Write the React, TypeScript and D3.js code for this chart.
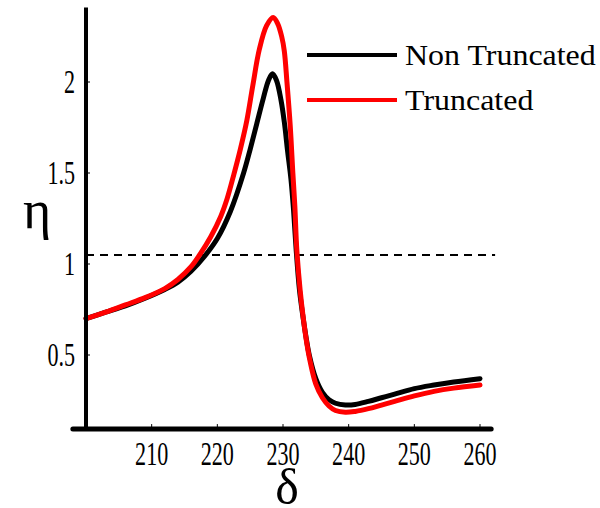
import React from "react";
import * as d3 from "d3";

// δ (detuning) samples and η response for the two models
const deltaNon = [200, 203, 206, 209, 212, 214, 216, 218, 220, 222, 224, 225, 226, 227, 227.8, 228.4, 229, 229.7, 230.2, 230.7, 231.2, 231.6, 232, 232.5, 233, 233.5, 234, 235, 236, 237, 238, 239.5, 241, 243, 245, 247, 250, 253, 256, 260];
const etaNon = [0.70, 0.735, 0.77, 0.812, 0.86, 0.90, 0.96, 1.04, 1.14, 1.29, 1.50, 1.63, 1.77, 1.91, 2.01, 2.045, 2.01, 1.90, 1.78, 1.62, 1.47, 1.30, 1.08, 0.86, 0.72, 0.60, 0.50, 0.37, 0.295, 0.255, 0.235, 0.225, 0.228, 0.245, 0.265, 0.285, 0.315, 0.335, 0.352, 0.37];

const deltaTr = [200, 203, 206, 209, 212, 214, 216, 217.3, 219, 220.5, 221.5, 222.5, 223.5, 224.5, 225.4, 226.4, 227.5, 228.5, 229.2, 229.8, 230.2, 230.6, 231.1, 231.5, 231.8, 232.1, 232.6, 233.1, 233.6, 234.1, 235, 236, 237, 238, 239.5, 241, 243, 245, 247, 250, 253, 256, 260];
const etaTr = [0.70, 0.735, 0.775, 0.815, 0.865, 0.915, 0.985, 1.05, 1.15, 1.26, 1.36, 1.49, 1.63, 1.79, 1.98, 2.18, 2.31, 2.355, 2.32, 2.25, 2.17, 2.00, 1.76, 1.50, 1.32, 1.08, 0.86, 0.70, 0.57, 0.47, 0.34, 0.265, 0.22, 0.195, 0.185, 0.19, 0.205, 0.225, 0.245, 0.275, 0.30, 0.318, 0.335];

const xTicks = [210, 220, 230, 240, 250, 260];
const yTicks = [0.5, 1, 1.5, 2];
const yTickLabels = ["0.5", "1", "1.5", "2"];
const threshold = 1.05;

const seriesNames = ["Non Truncated", "Truncated"];
const seriesColors = ["#000000", "#ff0000"];

const W = 600;
const H = 508;
const SERIF = "'Liberation Serif', 'DejaVu Serif', serif";

export default function App() {
  const x = d3.scaleLinear().domain([200, 260]).range([86, 480]);
  const y = d3.scaleLinear().domain([0.5, 2]).range([355, 82]);

  const axisYVal = 0.093; // where the δ axis crosses
  const axisY = y(axisYVal);
  const yTop = y(2.41);
  const xLeft = x(198);
  const xRight = x(261.7);

  const line = d3
    .line<[number, number]>()
    .x((d) => x(d[0]))
    .y((d) => y(d[1]))
    .curve(d3.curveCatmullRom.alpha(0.5));

  const nonPts = deltaNon.map((d, i) => [d, etaNon[i]] as [number, number]);
  const trPts = deltaTr.map((d, i) => [d, etaTr[i]] as [number, number]);

  const txt = { fontFamily: SERIF };

  return (
    <svg
      width={W}
      height={H}
      style={{ position: "absolute", left: 0, top: 0, background: "#fff" }}
    >
      <rect width={W} height={H} fill="#fff" />

      {/* dashed η = threshold reference */}
      <line
        x1={x(200)}
        x2={x(262.3)}
        y1={y(threshold)}
        y2={y(threshold)}
        stroke="#000"
        strokeWidth={2}
        strokeDasharray="8 6"
      />

      {/* curves */}
      <path d={line(nonPts) || ""} fill="none" stroke={seriesColors[0]} strokeWidth={5} strokeLinejoin="round" strokeLinecap="round" />
      <path d={line(trPts) || ""} fill="none" stroke={seriesColors[1]} strokeWidth={5} strokeLinejoin="round" strokeLinecap="round" />

      {/* axes */}
      <line x1={x(200)} x2={x(200)} y1={yTop} y2={axisY} stroke="#000" strokeWidth={4} />
      <line x1={xLeft} x2={xRight} y1={axisY} y2={axisY} stroke="#000" strokeWidth={5} strokeLinecap="round" />

      {/* y ticks */}
      {yTicks.map((t, i) => (
        <g key={"y" + t}>
          <line x1={x(200)} x2={x(200) + 4} y1={y(t)} y2={y(t)} stroke="#000" strokeWidth={1} />
          <text
            transform={`translate(${x(200) - 11},${y(t) + 11}) scale(0.65,1)`}
            textAnchor="end"
            fontSize={34}
            fill="#000"
            style={txt}
          >
            {yTickLabels[i]}
          </text>
        </g>
      ))}

      {/* x ticks */}
      {xTicks.map((t) => (
        <g key={"x" + t}>
          <line x1={x(t)} x2={x(t)} y1={axisY - 5} y2={axisY} stroke="#000" strokeWidth={1} />
          <text
            transform={`translate(${x(t)},${axisY + 36}) scale(0.65,1)`}
            textAnchor="middle"
            fontSize={34}
            fill="#000"
            style={txt}
          >
            {t}
          </text>
        </g>
      ))}

      {/* axis titles */}
      <text x={37} y={228} textAnchor="middle" fontSize={54} fill="#000" style={txt}>
        η
      </text>
      <text x={287} y={504} textAnchor="middle" fontSize={50} fill="#000" style={txt}>
        δ
      </text>

      {/* legend */}
      {seriesNames.map((name, i) => (
        <g key={name} transform={`translate(0,${55 + i * 45})`}>
          <line x1={307} x2={397} y1={0} y2={0} stroke={seriesColors[i]} strokeWidth={4} />
          <text
            transform="translate(405,10) scale(1.065,1)"
            fontSize={30}
            fill="#000"
            style={txt}
          >
            {name}
          </text>
        </g>
      ))}
    </svg>
  );
}
